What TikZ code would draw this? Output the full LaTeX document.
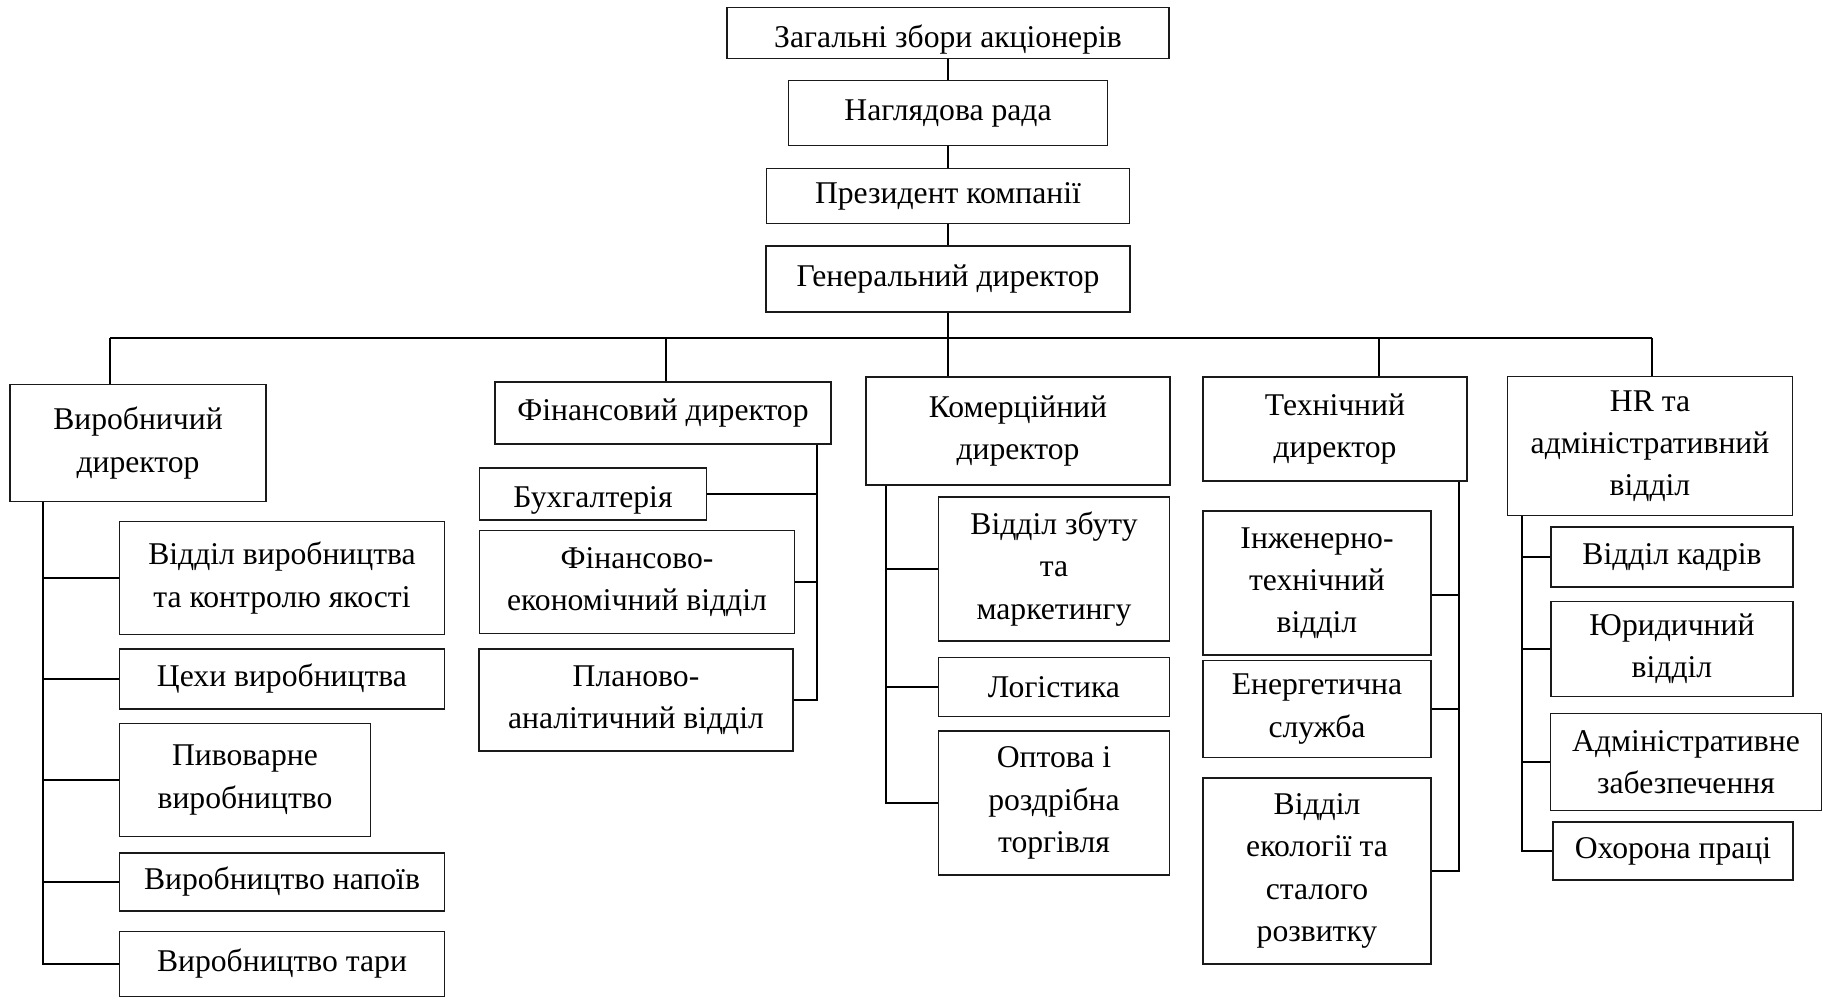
\documentclass[tikz,border=0pt]{standalone}
\usepackage{fontspec}
\setmainfont{Liberation Serif}
\usetikzlibrary{calc}
\definecolor{cline}{HTML}{1A1A1A}
\tikzset{
  every picture/.style={font=\fontsize{9}{12}\selectfont, line width=0.6pt},
  box/.style={draw=cline, line width=0.5pt, align=center, inner sep=2pt},
  link/.style={draw=black, line width=0.6pt},
}
\newcommand{\lowtext}[1]{\raisebox{-1.8pt}[\height][\depth]{#1}}

\begin{document}
\begin{tikzpicture}[x=0.01cm, y=-0.01cm]
  \useasboundingbox (0,0) rectangle (1823,999);
  % top of the chain, one column at x = 948
  \node[box, minimum width=4.41cm, minimum height=0.51cm] (zag) at (948,33) {\lowtext{Загальні збори акціонерів}};
  \node[box, minimum width=3.19cm, minimum height=0.65cm] (nag) at (948,113) {Наглядова рада};
  \node[box, minimum width=3.63cm, minimum height=0.55cm] (prez) at (948,196) {Президент компанії};
  \node[box, minimum width=3.64cm, minimum height=0.66cm] (gen) at (948,279) {Генеральний директор};
  \draw[link] (zag) -- (nag);
  \draw[link] (nag) -- (prez);
  \draw[link] (prez) -- (gen);

  % directors
  \node[box, minimum width=2.56cm, minimum height=1.17cm] (vyr) at (138,443) {Виробничий\\директор};
  \node[box, minimum width=3.36cm, minimum height=0.62cm] (fin) at (663,413) {Фінансовий директор};
  \node[box, minimum width=3.04cm, minimum height=1.08cm] (kom) at (1018,431) {Комерційний\\директор};
  \node[box, minimum width=2.64cm, minimum height=1.04cm] (tech) at (1335,429) {Технічний\\директор};
  \node[box, minimum width=2.85cm, minimum height=1.39cm] (hr) at (1650,446) {HR та\\адміністративний\\відділ};

  % bus under the general director
  \coordinate (bus) at (948,338);
  \coordinate (d1) at (110,338);
  \coordinate (d2) at (666,338);
  \coordinate (d3) at (948,338);
  \coordinate (d4) at (1379,338);
  \coordinate (d5) at (1652,338);
  \draw[link] (gen) -- (bus);
  \draw[link] (d1) -- (d5);
  \foreach \d/\n in {d1/vyr, d2/fin, d3/kom, d4/tech, d5/hr}
    \draw[link] (\d) -- (\d |- \n.north);

  % production
  \node[box, minimum width=3.25cm, minimum height=1.13cm] (vpk) at (282,578) {Відділ виробництва\\та контролю якості};
  \node[box, minimum width=3.25cm, minimum height=0.60cm] (tsekhy) at (282,679) {Цехи виробництва};
  \node[box, minimum width=2.51cm, minimum height=1.13cm] (pyvo) at (245,780) {Пивоварне\\виробництво};
  \node[box, minimum width=3.25cm, minimum height=0.58cm] (napoi) at (282,882) {Виробництво напоїв};
  \node[box, minimum width=3.25cm, minimum height=0.65cm] (tara) at (282,964) {Виробництво тари};
  \coordinate (t1) at (43,0);
  \draw[link] (vyr.south -| t1) |- (tara.west);
  \foreach \n in {vpk, tsekhy, pyvo, napoi}
    \draw[link] (\n.west) -- (\n.west -| t1);

  % finance
  \node[box, minimum width=2.27cm, minimum height=0.52cm] (bukh) at (593,494) {\lowtext{Бухгалтерія}};
  \node[box, minimum width=3.15cm, minimum height=1.03cm] (fe) at (637,582) {Фінансово-\\економічний відділ};
  \node[box, minimum width=3.14cm, minimum height=1.02cm] (pa) at (636,700) {Планово-\\аналітичний відділ};
  \coordinate (t2) at (817,0);
  \draw[link] (fin.south -| t2) |- (pa.east);
  \foreach \n in {bukh, fe}
    \draw[link] (\n.east) -- (\n.east -| t2);

  % commerce
  \node[box, minimum width=2.31cm, minimum height=1.44cm] (zbut) at (1054,569) {Відділ збуту\\та\\маркетингу};
  \node[box, minimum width=2.31cm, minimum height=0.59cm] (logist) at (1054,687) {Логістика};
  \node[box, minimum width=2.31cm, minimum height=1.44cm] (opt) at (1054,803) {Оптова і\\роздрібна\\торгівля};
  \coordinate (t3) at (886,0);
  \draw[link] (kom.south -| t3) |- (opt.west);
  \foreach \n in {zbut, logist}
    \draw[link] (\n.west) -- (\n.west -| t3);

  % technical
  \node[box, minimum width=2.28cm, minimum height=1.44cm] (inzh) at (1317,583) {Інженерно-\\технічний\\відділ};
  \node[box, minimum width=2.28cm, minimum height=0.97cm] (energ) at (1317,709) {Енергетична\\служба};
  \node[box, minimum width=2.28cm, minimum height=1.86cm] (eco) at (1317,871) {Відділ\\екології та\\сталого\\розвитку};
  \coordinate (t4) at (1459,0);
  \draw[link] (tech.south -| t4) |- (eco.east);
  \draw[link] ([yshift=-3.4pt]inzh.east) -- ([yshift=-3.4pt]inzh.east -| t4);
  \draw[link] (energ.east) -- (energ.east -| t4);

  % HR
  \node[box, minimum width=2.42cm, minimum height=0.60cm] (kadr) at (1672,557) {Відділ кадрів};
  \node[box, minimum width=2.42cm, minimum height=0.95cm] (yur) at (1672,649) {Юридичний\\відділ};
  \node[box, minimum width=2.71cm, minimum height=0.97cm] (adm) at (1686,762) {Адміністративне\\забезпечення};
  \node[box, minimum width=2.40cm, minimum height=0.58cm] (okh) at (1673,851) {Охорона праці};
  \coordinate (t5) at (1522,0);
  \draw[link] (hr.south -| t5) |- (okh.west);
  \foreach \n in {kadr, yur, adm}
    \draw[link] (\n.west) -- (\n.west -| t5);
\end{tikzpicture}
\end{document}
